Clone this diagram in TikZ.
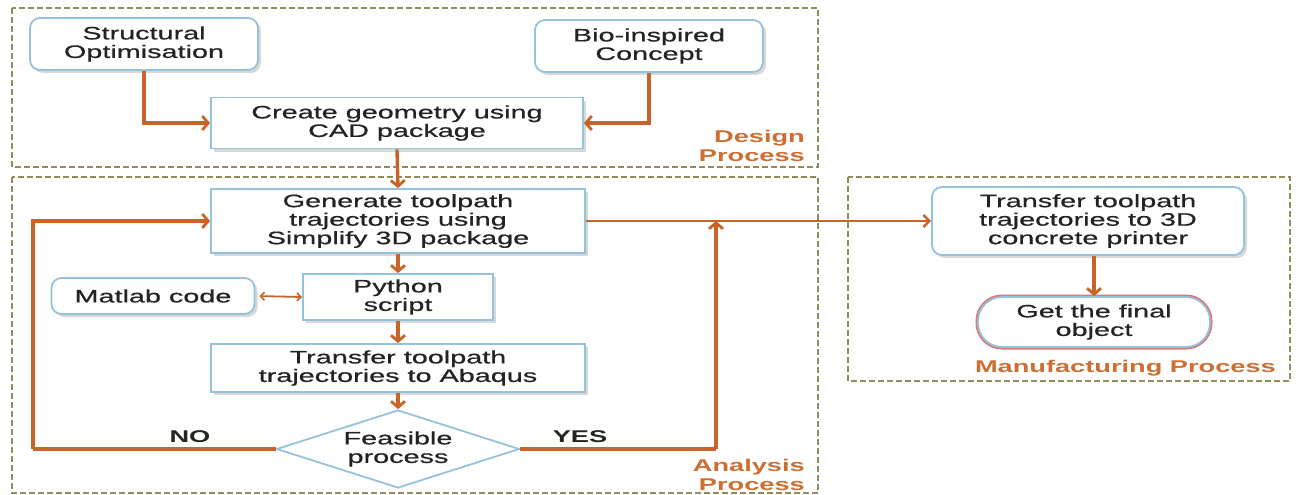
\documentclass[tikz,border=0pt]{standalone}
\usepackage{fontspec}
\setmainfont{Liberation Sans}[FakeStretch=1.6,UprightFeatures={FakeBold=0.6}]
\usetikzlibrary{arrows.meta,shapes.geometric,shadows}
\definecolor{olive}{RGB}{145,140,90}
\definecolor{orng}{RGB}{200,100,40}
\definecolor{lblue}{RGB}{150,195,220}
\definecolor{txt}{RGB}{35,35,35}
\definecolor{lbl}{RGB}{205,110,50}
\definecolor{pinkred}{RGB}{220,120,120}
\tikzset{
  x=1pt,y=-1pt,
  every node/.style={font=\fontsize{18}{18.5}\selectfont,text=txt,align=center,inner sep=0pt},
  groupbox/.style={draw=olive,line width=2pt,dash pattern=on 6pt off 3pt},
  sqbox/.style={draw=lblue,line width=1.8pt,fill=white,drop shadow={shadow xshift=3pt,shadow yshift=-3pt,opacity=0.3,fill=gray}},
  rbox/.style={sqbox,rounded corners=10pt},
  arr/.style={draw=orng,line width=3.4pt,-{Straight Barb[length=6pt,width=14pt,line width=2.8pt]}},
  thinarr/.style={draw=orng,line width=2.4pt,-{Straight Barb[length=6pt,width=12pt,line width=2.4pt]}},
  dblarr/.style={draw=orng,line width=1.8pt,{Straight Barb[length=4pt,width=8pt,line width=1.6pt]}-{Straight Barb[length=4pt,width=8pt,line width=1.6pt]}},
  line/.style={draw=orng,line width=3.4pt},
  grplabel/.style={font=\fontsize{17}{18.5}\selectfont\bfseries,text=lbl,align=right,anchor=east},
  yn/.style={font=\fontsize{17}{18.5}\selectfont\bfseries,text=txt}
}
\begin{document}
\begin{tikzpicture}
\useasboundingbox (0,0) rectangle (1296,495);
\fill[white] (0,0) rectangle (1296,495);
% group boxes
\draw[groupbox] (12,8) rectangle (818,167);
\draw[groupbox] (12,177) rectangle (818,493);
\draw[groupbox] (848,177) rectangle (1290,381);
\node[grplabel] (dlab) at (805,146) {Design\\Process};
\node[grplabel] (alab) at (805,475) {Analysis\\Process};
\node[grplabel] (mlab) at (1276,368) {Manufacturing Process};
% nodes
\node[rbox,minimum width=228pt,minimum height=52pt] (so) at (144,44) {Structural\\Optimisation};
\node[rbox,minimum width=228pt,minimum height=52pt] (bio) at (649,46) {Bio-inspired\\Concept};
\node[sqbox,minimum width=372pt,minimum height=51pt] (cad) at (397,123) {Create geometry using\\CAD package};
\node[sqbox,minimum width=374pt,minimum height=64pt] (gen) at (398,221) {Generate toolpath\\trajectories using\\Simplify 3D package};
\node[sqbox,minimum width=190pt,minimum height=46pt] (py) at (398,297) {Python\\script};
\node[rbox,minimum width=203pt,minimum height=36pt] (mat) at (153,296) {Matlab code};
\node[sqbox,minimum width=374pt,minimum height=48pt] (ab) at (398,368) {Transfer toolpath\\trajectories to Abaqus};
\node[diamond,draw=lblue,line width=1.8pt,fill=white,aspect=3.1,minimum width=243pt,minimum height=78pt] (fe) at (398,449) {Feasible\\process};
\node[rbox,minimum width=312pt,minimum height=68pt] (tr) at (1088,221) {Transfer toolpath\\trajectories to 3D\\concrete printer};
\node[draw=lblue,line width=1.8pt,fill=white,rounded corners=24pt,minimum width=232pt,minimum height=50pt,
      preaction={draw=pinkred,line width=5pt,rounded corners=24pt}] (fin) at (1094,322) {Get the final\\object};
% coordinates
\coordinate (nocorner) at (33,449);
\coordinate (yescorner) at (716,449);
\coordinate (yesend) at (716,221);
% connectors
\draw[arr] (so.south) |- (cad.west);
\draw[arr] (bio.south) |- (cad.east);
\draw[arr] (cad.south) -- (gen.north);
\draw[arr] (gen.south) -- (py.north);
\draw[arr] (py.south) -- (ab.north);
\draw[arr] (ab.south) -- (fe.north);
\draw[dblarr,shorten <=4pt] (mat.east) -- (py.west);
\draw[line] (fe.west) -- (nocorner);
\draw[arr] (nocorner) |- (gen.west);
\draw[line] (fe.east) -- (yescorner);
\draw[arr] (yescorner) -- (yesend);
\draw[thinarr] (gen.east) -- (tr.west);
\draw[arr] (fin.north |- tr.south) -- (fin.north);
\node[yn] (nolab) at (190,437) {NO};
\node[yn] (yeslab) at (580,437) {YES};
\end{tikzpicture}
\end{document}
